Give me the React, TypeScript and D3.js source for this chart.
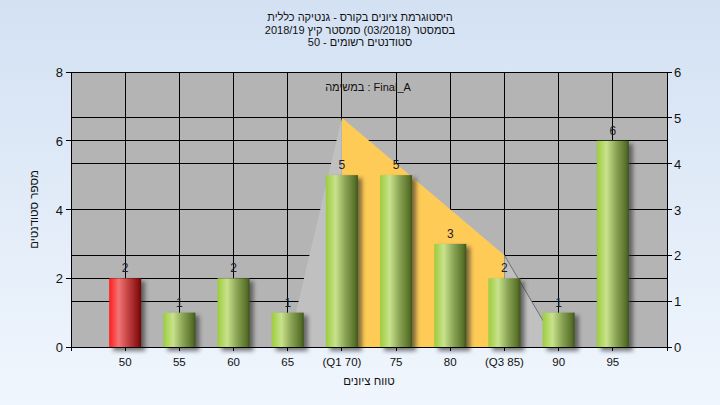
import { useEffect, useRef } from "react";
import * as d3 from "d3";

// histogram data
const categories = ["50", "55", "60", "65", "(Q1 70)", "75", "80", "(Q3 85)", "90", "95"];
const counts = [2, 1, 2, 1, 5, 5, 3, 2, 1, 6];
const failingCategories = ["50"];

// quartile shape (right axis)
const boxCategories = ["65", "(Q1 70)", "(Q3 85)", "90"];
const boxValues = [0, 5, 2, 0];

const leftTicks = [0, 2, 4, 6, 8];
const rightTicks = [0, 1, 2, 3, 4, 5, 6];

const titleLines = [
  "היסטוגרמת ציונים בקורס - גנטיקה כללית",
  "בסמסטר (03/2018) סמסטר קיץ 2018/19",
  "סטודנטים רשומים - 50",
];
const subTitle = "במשימה : Final_A";
const xTitle = "טווח ציונים";
const yTitle = "מספר סטודנטים";

const W = 720;
const H = 405;
const FONT = "'Liberation Sans', Arial, sans-serif";

export default function App() {
  const svgRef = useRef<SVGSVGElement | null>(null);

  useEffect(() => {
    if (!svgRef.current) return;
    const svg = d3.select(svgRef.current);
    svg.selectAll("*").remove();

    const left = 71,
      right = 667,
      top = 72,
      bottom = 347;

    const x = d3.scaleLinear().domain([0, categories.length + 1]).range([left, right]);
    const yL = d3.scaleLinear().domain([0, 8]).range([bottom, top]);
    const yR = d3.scaleLinear().domain([0, 6]).range([bottom, top]);
    const pos = (c: string) => x(categories.indexOf(c) + 1);

    const defs = svg.append("defs");
    const bg = defs
      .append("linearGradient")
      .attr("id", "bg")
      .attr("x1", 0)
      .attr("y1", 0)
      .attr("x2", 0)
      .attr("y2", 1);
    bg.append("stop").attr("offset", "0%").attr("stop-color", "#d3e1f3");
    bg.append("stop").attr("offset", "100%").attr("stop-color", "#f0f6fd");

    const makeBarGrad = (id: string, stops: [number, string][]) => {
      const g = defs.append("linearGradient").attr("id", id).attr("x1", 0).attr("x2", 1).attr("y1", 0).attr("y2", 0);
      stops.forEach(([o, c]) => g.append("stop").attr("offset", `${o}%`).attr("stop-color", c));
    };
    makeBarGrad("green", [
      [0, "#9ccd3c"],
      [30, "#c8e28c"],
      [60, "#8ba556"],
      [92, "#566f27"],
      [100, "#3e521a"],
    ]);
    makeBarGrad("red", [
      [0, "#ff1c1c"],
      [30, "#f27474"],
      [60, "#c24040"],
      [92, "#861010"],
      [100, "#6a0606"],
    ]);
    defs
      .append("filter")
      .attr("id", "blur")
      .attr("x", "-50%")
      .attr("y", "-50%")
      .attr("width", "200%")
      .attr("height", "200%")
      .append("feGaussianBlur")
      .attr("stdDeviation", 2);

    svg.append("rect").attr("width", W).attr("height", H).attr("fill", "url(#bg)");

    // plot background
    svg
      .append("rect")
      .attr("x", left)
      .attr("y", top)
      .attr("width", right - left)
      .attr("height", bottom - top)
      .attr("fill", "#b4b4b4");

    // grid
    const grid = svg.append("g").attr("stroke", "#000").attr("stroke-width", 1).attr("shape-rendering", "crispEdges");
    leftTicks.forEach((t) =>
      grid.append("line").attr("x1", left).attr("x2", right).attr("y1", yL(t)).attr("y2", yL(t))
    );
    rightTicks.forEach((t) =>
      grid.append("line").attr("x1", left).attr("x2", right).attr("y1", yR(t)).attr("y2", yR(t))
    );
    categories.forEach((c) =>
      grid.append("line").attr("x1", pos(c)).attr("x2", pos(c)).attr("y1", top).attr("y2", bottom)
    );

    // quartile shape
    const pts = boxCategories.map((c, i) => [pos(c), yR(boxValues[i])] as [number, number]);
    const area = d3
      .area<[number, number]>()
      .x((d) => d[0])
      .y0(bottom)
      .y1((d) => d[1]);
    svg.append("path").attr("d", area([pts[0], pts[1]])).attr("fill", "#c0c0c0");
    svg.append("path").attr("d", area([pts[1], pts[2]])).attr("fill", "#fecb57");
    svg.append("path").attr("d", area([pts[2], pts[3]])).attr("fill", "#c0c0c0");
    svg
      .append("path")
      .attr("d", d3.line()([pts[2], pts[3]]))
      .attr("stroke", "#6e6e6e")
      .attr("fill", "none");

    // bars
    const bw = 32;
    const bars = svg.append("g");
    categories.forEach((c, i) => {
      const cx = pos(c);
      const yt = yL(counts[i]);
      bars
        .append("rect")
        .attr("x", cx - bw / 2 + 4)
        .attr("y", yt + 3)
        .attr("width", bw)
        .attr("height", bottom - yt + 1)
        .attr("fill", "#2a2a2a")
        .attr("opacity", 0.6)
        .attr("filter", "url(#blur)");
    });
    categories.forEach((c, i) => {
      const cx = pos(c);
      const yt = yL(counts[i]);
      bars
        .append("rect")
        .attr("x", cx - bw / 2)
        .attr("y", yt)
        .attr("width", bw)
        .attr("height", bottom - yt)
        .attr("fill", failingCategories.includes(c) ? "url(#red)" : "url(#green)");
      bars
        .append("text")
        .attr("x", cx)
        .attr("y", yt - 6)
        .attr("text-anchor", "middle")
        .attr("font-family", FONT)
        .attr("font-size", 12)
        .attr("fill", "#1c1c2c")
        .text(counts[i]);
    });

    // axes
    const ax = svg.append("g").attr("stroke", "#000").attr("shape-rendering", "crispEdges");
    ax.append("line").attr("x1", left).attr("x2", left).attr("y1", top).attr("y2", bottom + 4);
    ax.append("line").attr("x1", right).attr("x2", right).attr("y1", top).attr("y2", bottom + 4);
    ax.append("line").attr("x1", left).attr("x2", right).attr("y1", bottom).attr("y2", bottom);
    ax.append("line").attr("x1", left).attr("x2", right).attr("y1", top).attr("y2", top);
    leftTicks.forEach((t) =>
      ax.append("line").attr("x1", left - 5).attr("x2", left).attr("y1", yL(t)).attr("y2", yL(t))
    );
    rightTicks.forEach((t) =>
      ax.append("line").attr("x1", right).attr("x2", right + 5).attr("y1", yR(t)).attr("y2", yR(t))
    );
    categories.forEach((c) =>
      ax.append("line").attr("x1", pos(c)).attr("x2", pos(c)).attr("y1", bottom).attr("y2", bottom + 4)
    );

    const txt = svg.append("g").attr("font-family", FONT).attr("fill", "#111");
    leftTicks.forEach((t) =>
      txt
        .append("text")
        .attr("x", left - 8)
        .attr("y", yL(t) + 5)
        .attr("text-anchor", "end")
        .attr("font-size", 13)
        .text(t)
    );
    rightTicks.forEach((t) =>
      txt
        .append("text")
        .attr("x", right + 7)
        .attr("y", yR(t) + 5)
        .attr("font-size", 13)
        .text(t)
    );
    categories.forEach((c) =>
      txt
        .append("text")
        .attr("x", pos(c))
        .attr("y", 366)
        .attr("text-anchor", "middle")
        .attr("font-size", 11.5)
        .text(c)
    );

    titleLines.forEach((line, i) =>
      txt
        .append("text")
        .attr("x", 360)
        .attr("y", 21 + i * 12.5)
        .attr("text-anchor", "middle")
        .attr("direction", "rtl")
        .attr("font-size", 11)
        .text(line)
    );
    txt
      .append("text")
      .attr("x", 368)
      .attr("y", 91)
      .attr("text-anchor", "middle")
      .attr("font-size", 11)
      .text(subTitle);
    txt
      .append("text")
      .attr("x", (left + right) / 2)
      .attr("y", 385)
      .attr("text-anchor", "middle")
      .attr("direction", "rtl")
      .attr("font-size", 11.5)
      .text(xTitle);
    txt
      .append("text")
      .attr("transform", `translate(38,${(top + bottom) / 2}) rotate(-90)`)
      .attr("text-anchor", "middle")
      .attr("direction", "rtl")
      .attr("font-size", 11.5)
      .text(yTitle);
  }, []);

  return (
    <svg
      ref={svgRef}
      width={W}
      height={H}
      style={{ position: "absolute", left: 0, top: 0, display: "block" }}
    />
  );
}
